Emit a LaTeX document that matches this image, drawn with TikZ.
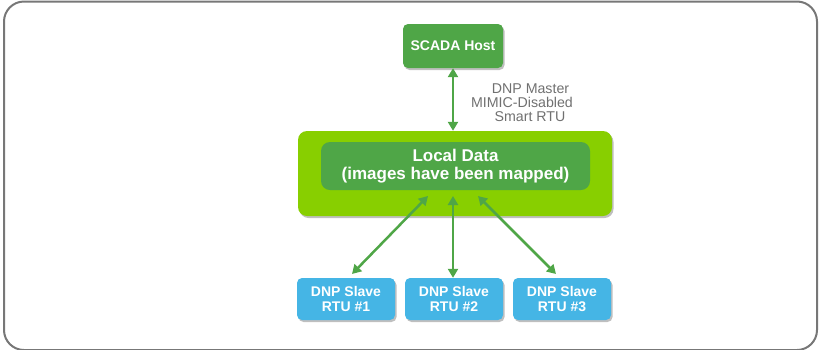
\documentclass[tikz,border=0pt]{standalone}
\usepackage{fontspec}
\setmainfont{Liberation Sans}
\usetikzlibrary{arrows.meta,shadows}
\definecolor{frameg}{HTML}{777777}
\definecolor{dkgreen}{HTML}{4FA647}
\definecolor{lime}{HTML}{88CF00}
\definecolor{skyb}{HTML}{45B5E5}
\definecolor{txtg}{HTML}{707070}
\tikzset{
  boxshadow/.style={drop shadow={shadow xshift=1.5pt,shadow yshift=-2pt,opacity=0.25,fill=black}},
  hostbox/.style={fill=dkgreen,rounded corners=5pt,minimum width=100pt,minimum height=44pt,text=white,font=\bfseries\fontsize{14}{15}\selectfont,boxshadow},
  outerbox/.style={fill=lime,rounded corners=9pt,minimum width=314pt,minimum height=85pt,boxshadow},
  innerbox/.style={fill=dkgreen,rounded corners=9pt,minimum width=269pt,minimum height=48pt,text=white,font=\bfseries\fontsize{17}{17.5}\selectfont,align=center},
  slavebox/.style={fill=skyb,rounded corners=5pt,minimum width=98pt,minimum height=42pt,text=white,font=\bfseries\fontsize{14}{15}\selectfont,align=center,boxshadow},
  link/.style={draw=dkgreen,line width=2.5pt,{Triangle[length=9pt,width=10pt]}-{Triangle[length=9pt,width=10pt]}},
}
\begin{document}
\begin{tikzpicture}[x=1pt,y=-1pt]
\useasboundingbox (0,0) rectangle (819,349);
\draw[frameg,line width=2pt,rounded corners=20pt] (4,1.5) rectangle (817,350);
\node[hostbox] (host) at (453,46) {SCADA Host};
\node[outerbox] (outer) at (455,173.5) {};
\node[innerbox] (inner) at (455.5,166) {Local Data\\(images have been mapped)};
\node[slavebox] (s1) at (346,299) {DNP Slave\\RTU \#1};
\node[slavebox] (s2) at (454,299) {DNP Slave\\RTU \#2};
\node[slavebox] (s3) at (562,299) {DNP Slave\\RTU \#3};
\node[text=txtg,font=\fontsize{14.2}{14}\selectfont,align=center] (lbl) at (522,103) {\hspace*{17pt}DNP Master\\MIMIC-Disabled\\\hspace*{16pt}Smart RTU};
\coordinate (a1) at (428,196);
\coordinate (a2) at (453,196);
\coordinate (a3) at (478,196);
\draw[link] (host.south) -- (host.south |- outer.north);
\draw[link] (a1) -- (352,274) coordinate (b1);
\draw[link] (a2) -- (a2 |- s2.north);
\draw[link] (a3) -- (556,274) coordinate (b3);
\end{tikzpicture}
\end{document}
